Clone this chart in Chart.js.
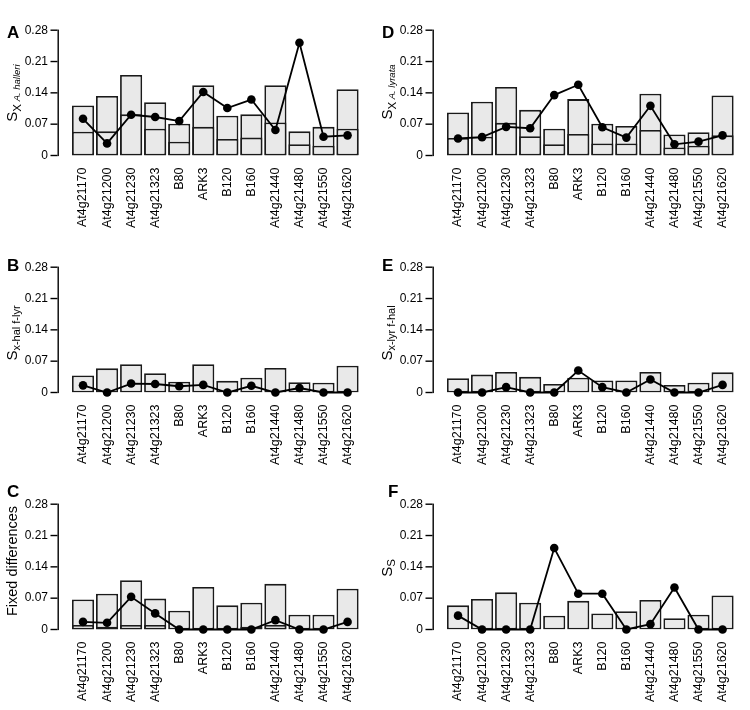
<!DOCTYPE html>
<html>
<head>
<meta charset="utf-8">
<script src="https://cdn.jsdelivr.net/npm/chart.js@4.4.0/dist/chart.umd.min.js"></script>
<style>
  body { margin: 0; background: #fff; }
  #grid { display: grid; grid-template-columns: 375px 375px; grid-template-rows: 237px 237px 236px; width: 750px; height: 710px; }
  canvas { display: block; }
</style>
</head>
<body>
<div id="grid">
  <div><canvas id="panelA" width="375" height="237"></canvas></div>
  <div><canvas id="panelD" width="375" height="237"></canvas></div>
  <div><canvas id="panelB" width="375" height="237"></canvas></div>
  <div><canvas id="panelE" width="375" height="237"></canvas></div>
  <div><canvas id="panelC" width="375" height="236"></canvas></div>
  <div><canvas id="panelF" width="375" height="236"></canvas></div>
</div>
<script>
const genes = ['At4g21170', 'At4g21200', 'At4g21230', 'At4g21323', 'B80', 'ARK3',
               'B120', 'B160', 'At4g21440', 'At4g21480', 'At4g21550', 'At4g21620'];
const yTicks = [0, 0.07, 0.14, 0.21, 0.28];

// A - S_X A. halleri
const halleriTotal = [0.112, 0.133, 0.180, 0.119, 0.071, 0.157, 0.089, 0.092, 0.157, 0.054, 0.064, 0.148];
const halleriInner = [0.053, 0.054, 0.092, 0.060, 0.031, 0.064, 0.037, 0.040, 0.074, 0.025, 0.022, 0.060];
const halleriLine  = [0.082, 0.027, 0.091, 0.086, 0.077, 0.142, 0.106, 0.125, 0.057, 0.252, 0.042, 0.045];

// D - S_X A. lyrata
const lyrataTotal = [0.096, 0.120, 0.153, 0.102, 0.060, 0.126, 0.071, 0.066, 0.138, 0.047, 0.052, 0.134];
const lyrataInner = [0.039, 0.042, 0.073, 0.043, 0.025, 0.048, 0.027, 0.027, 0.057, 0.018, 0.022, 0.045];
const lyrataLine  = [0.038, 0.041, 0.064, 0.061, 0.135, 0.158, 0.063, 0.040, 0.111, 0.025, 0.031, 0.045];

// B - S x-hal f-lyr
const halFixLyrTotal = [0.038, 0.054, 0.063, 0.043, 0.024, 0.063, 0.026, 0.033, 0.055, 0.023, 0.022, 0.060];
const halFixLyrLine  = [0.016, 0, 0.020, 0.019, 0.014, 0.017, 0, 0.015, 0, 0.010, 0, 0];

// E - S x-lyr f-hal
const lyrFixHalTotal = [0.032, 0.040, 0.046, 0.035, 0.019, 0.033, 0.027, 0.027, 0.046, 0.017, 0.022, 0.045];
const lyrFixHalLine  = [0, 0, 0.012, 0, 0, 0.049, 0.012, 0, 0.029, 0, 0, 0.017];

// C - fixed differences
const fixedTotal = [0.067, 0.080, 0.110, 0.069, 0.042, 0.095, 0.054, 0.060, 0.102, 0.033, 0.033, 0.091];
const fixedInner = [0.010, 0.006, 0.010, 0.010, null, null, null, 0.006, 0.010, null, null, null];
const fixedLine  = [0.017, 0.015, 0.073, 0.036, 0, 0, 0, 0, 0.021, 0, 0, 0.017];

// F - S_S
const sharedTotal = [0.054, 0.068, 0.083, 0.060, 0.031, 0.064, 0.036, 0.041, 0.066, 0.025, 0.033, 0.076];
const sharedLine  = [0.031, 0, 0, 0, 0.182, 0.080, 0.080, 0, 0.012, 0.094, 0, 0];

const family = '"Liberation Sans", Arial, Helvetica, sans-serif';
Chart.defaults.font.family = family;
Chart.defaults.color = '#000';

const panels = [
  { id: 'panelA', letter: 'A', letterX: 7, letterY: 33, titleY: 93,
    total: halleriTotal, inner: halleriInner, line: halleriLine,
    title: [{ text: 'S', font: '15px ' + family, shift: 0 },
            { text: 'X', font: '11.5px ' + family, shift: 4.5 },
            { text: ' A. halleri', font: 'italic 9.5px ' + family, shift: 3.5 }] },
  { id: 'panelD', letter: 'D', letterX: 7, letterY: 33, titleY: 92,
    total: lyrataTotal, inner: lyrataInner, line: lyrataLine,
    title: [{ text: 'S', font: '15px ' + family, shift: 0 },
            { text: 'X', font: '11.5px ' + family, shift: 4.5 },
            { text: ' A. lyrata', font: 'italic 9.5px ' + family, shift: 3.5 }] },
  { id: 'panelB', letter: 'B', letterX: 7, letterY: 29, titleY: 96,
    total: halFixLyrTotal, inner: null, line: halFixLyrLine,
    title: [{ text: 'S', font: '15px ' + family, shift: 0 },
            { text: 'x-hal f-lyr', font: '11px ' + family, shift: 3 }] },
  { id: 'panelE', letter: 'E', letterX: 7, letterY: 29, titleY: 96,
    total: lyrFixHalTotal, inner: null, line: lyrFixHalLine,
    title: [{ text: 'S', font: '15px ' + family, shift: 0 },
            { text: 'x-lyr f-hal', font: '11px ' + family, shift: 3 }] },
  { id: 'panelC', letter: 'C', letterX: 7, letterY: 18, titleY: 87,
    total: fixedTotal, inner: fixedInner, line: fixedLine,
    title: [{ text: 'Fixed differences', font: '14.5px ' + family, shift: 0 }] },
  { id: 'panelF', letter: 'F', letterX: 13, letterY: 18, titleY: 94,
    total: sharedTotal, inner: null, line: sharedLine,
    title: [{ text: 'S', font: '15px ' + family, shift: 0 },
            { text: 'S', font: '11.5px ' + family, shift: 3.5 }] }
];

// R-like y axis (detached from the plot region), panel letter and rotated axis title
const axisDecor = {
  id: 'axisDecor',
  afterDraw(chart, args, opts) {
    const ctx = chart.ctx;
    const area = chart.chartArea;
    const y = chart.scales.y;
    const axisX = area.left - 13.5;
    const yTop = y.getPixelForValue(yTicks[yTicks.length - 1]);
    const yBottom = y.getPixelForValue(yTicks[0]);
    ctx.save();
    ctx.fillStyle = '#000';
    ctx.fillRect(axisX, yTop - 0.6, 1.4, yBottom - yTop + 1.2);
    yTicks.forEach(v => {
      const py = y.getPixelForValue(v);
      ctx.fillRect(axisX - 7, py - 0.7, 7, 1.4);
    });

    ctx.font = 'bold 17px ' + family;
    ctx.textBaseline = 'middle';
    ctx.textAlign = 'left';
    ctx.fillText(opts.letter, opts.letterX, opts.letterY);

    ctx.translate(16.5, opts.titleY);
    ctx.rotate(-Math.PI / 2);
    ctx.textBaseline = 'alphabetic';
    let total = 0;
    const widths = opts.title.map(p => {
      ctx.font = p.font;
      const w = ctx.measureText(p.text).width;
      total += w;
      return w;
    });
    let x = -total / 2;
    opts.title.forEach((p, i) => {
      ctx.font = p.font;
      ctx.fillText(p.text, x, p.shift);
      x += widths[i];
    });
    ctx.restore();
  }
};

function barSet(values, order) {
  return {
    type: 'bar',
    data: values,
    backgroundColor: '#e9e9e9',
    borderColor: '#1a1a1a',
    borderWidth: 1.8,
    borderSkipped: false,
    barPercentage: 0.92,
    categoryPercentage: 1,
    grouped: false,
    order: order
  };
}

panels.forEach(p => {
  const canvas = document.getElementById(p.id);
  const datasets = [
    {
      type: 'line',
      data: p.line,
      borderColor: '#000',
      borderWidth: 1.8,
      pointRadius: 4.3,
      pointBorderWidth: 0,
      pointBackgroundColor: '#000',
      tension: 0,
      clip: false,
      order: 0
    },
    barSet(p.total, 2)
  ];
  if (p.inner) datasets.push(barSet(p.inner, 1));

  new Chart(canvas, {
    type: 'bar',
    data: { labels: genes, datasets: datasets },
    options: {
      responsive: false,
      animation: false,
      layout: { padding: { top: 30, right: 10.6, left: 0, bottom: 0 } },
      scales: {
        x: {
          offset: true,
          grid: { display: false, drawTicks: false },
          border: { display: false },
          ticks: { autoSkip: false, minRotation: 90, maxRotation: 90, padding: 12, font: { size: 12.5 } },
          afterFit: s => { s.height = s.chart.height - 155.5; }
        },
        y: {
          min: 0,
          max: 0.28,
          grid: { display: false, drawTicks: false },
          border: { display: false },
          afterBuildTicks: s => { s.ticks = yTicks.map(v => ({ value: v })); },
          ticks: {
            padding: 23,
            font: { size: 12 },
            callback: v => v === 0 ? '0' : v.toFixed(2)
          },
          afterFit: s => { s.width = 71; }
        }
      },
      plugins: {
        legend: { display: false },
        tooltip: { enabled: false },
        axisDecor: p
      }
    },
    plugins: [axisDecor]
  });
});
</script>
</body>
</html>
